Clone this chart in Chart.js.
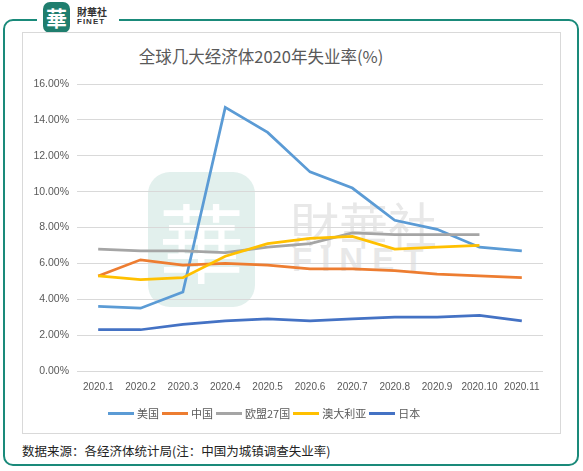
<!DOCTYPE html>
<html>
<head>
<meta charset="utf-8">
<script src="https://cdn.jsdelivr.net/npm/chart.js@4/dist/chart.umd.min.js"></script>
<style>
  body { margin: 0; background: #fff; width: 583px; height: 471px; position: relative; overflow: hidden;
         font-family: "Noto Sans CJK SC", "Liberation Sans", sans-serif; }
  .frame { position: absolute; left: 3px; top: 19px; width: 572px; height: 443px;
           border: 2.5px solid #1a8a7a; border-radius: 10px; }
  .gap { position: absolute; left: 37px; top: 14px; width: 82px; height: 12px; background: #fff; }
  .logo { position: absolute; left: 43px; top: 2px; width: 27px; height: 31px; background: #1f7e6e;
          border-radius: 7px; color: #fff; font-size: 21px; line-height: 31px; text-align: center; font-weight: bold; }
  .brand1 { position: absolute; left: 77px; top: 6px; font-size: 10px; font-weight: bold; color: #333; line-height: 11px; }
  .brand2 { position: absolute; left: 77px; top: 17px; font-family: "Liberation Sans", sans-serif; font-size: 8px;
            font-weight: bold; color: #333; letter-spacing: 1px; line-height: 9px; }
  .box { position: absolute; left: 22px; top: 32px; width: 537px; height: 400px; border: 1px solid #d9d9d9; background: #fff; }
  .wm-logo { position: absolute; left: 148px; top: 172px; width: 107px; height: 135px; background: #e2f0ed;
             border-radius: 22px; color: #fff; font-size: 86px; line-height: 135px; text-align: center; }
  .wm-t1 { position: absolute; left: 290px; top: 198px; font-size: 49px; color: #e8e8e8; line-height: 50px; }
  .wm-t2 { position: absolute; left: 292px; top: 243px; font-family: "Liberation Sans", sans-serif; font-size: 33px;
           color: #e8e8e8; font-weight: bold; letter-spacing: 9px; line-height: 34px; }
  #wrap { position: absolute; left: 23px; top: 33px; width: 537px; height: 400px; }
  .title { position: absolute; left: 0; width: 522px; top: 44px; text-align: center; font-size: 16.5px; color: #595959; }
  #legend { position: absolute; left: 108px; top: 405px; height: 16px; display: flex; align-items: center;
            font-size: 11px; color: #595959; }
  #legend .item { display: flex; align-items: center; margin-right: 3px; }
  #legend .sw { width: 26px; height: 3px; margin-right: 3px; }
  .src { position: absolute; left: 22px; top: 441px; font-size: 12.5px; color: #222; }
</style>
</head>
<body>
<div class="frame"></div>
<div class="gap"></div>
<div class="logo">華</div>
<div class="brand1">財華社</div>
<div class="brand2">FINET</div>
<div class="box"></div>
<div class="wm-logo">華</div>
<div class="wm-t1">財華社</div>
<div class="wm-t2">FINET</div>
<div class="title">全球几大经济体2020年失业率(%)</div>
<div id="wrap"><canvas id="myChart" width="537" height="400"></canvas></div>
<div id="legend"></div>
<div class="src">数据来源：各经济体统计局(注：中国为城镇调查失业率)</div>
<script>
// 月份
var months = ['2020.1', '2020.2', '2020.3', '2020.4', '2020.5', '2020.6', '2020.7', '2020.8', '2020.9', '2020.10', '2020.11'];
// 失业率 (%)
var usa = [3.6, 3.5, 4.4, 14.7, 13.3, 11.1, 10.2, 8.4, 7.9, 6.9, 6.7];
var china = [5.3, 6.2, 5.9, 6.0, 5.9, 5.7, 5.7, 5.6, 5.4, 5.3, 5.2];
var eu27 = [6.8, 6.7, 6.7, 6.6, 6.9, 7.1, 7.7, 7.6, 7.6, 7.6];
var australia = [5.3, 5.1, 5.2, 6.4, 7.1, 7.4, 7.5, 6.8, 6.9, 7.0];
var japan = [2.3, 2.3, 2.6, 2.8, 2.9, 2.8, 2.9, 3.0, 3.0, 3.1, 2.8];
var seriesNames = ['美国', '中国', '欧盟27国', '澳大利亚', '日本'];
var seriesColors = ['#5B9BD5', '#ED7D31', '#A5A5A5', '#FFC000', '#4472C4'];
var yTicks = [0, 2, 4, 6, 8, 10, 12, 14, 16];

var allData = [usa, china, eu27, australia, japan];
var datasets = allData.map(function (d, i) {
  return {
    label: seriesNames[i],
    data: d,
    borderColor: seriesColors[i],
    backgroundColor: seriesColors[i],
    borderWidth: 2.75,
    pointRadius: 0,
    tension: 0,
    order: allData.length - i
  };
});

// legend (html)
var lg = document.getElementById('legend');
seriesNames.forEach(function (name, i) {
  var it = document.createElement('div');
  it.className = 'item';
  it.innerHTML = '<span class="sw" style="background:' + seriesColors[i] + '"></span>' + name;
  lg.appendChild(it);
});

var ctx = document.getElementById('myChart').getContext('2d');
var myChart = new Chart(ctx, {
  type: 'line',
  data: { labels: months, datasets: datasets },
  options: {
    responsive: false,
    animation: false,
    layout: { padding: { top: 51, right: 17, left: 0, bottom: 0 } },
    plugins: {
      legend: { display: false },
      title: { display: false },
      tooltip: { enabled: false }
    },
    scales: {
      x: {
        offset: true,
        grid: { display: false, drawTicks: false },
        border: { display: false },
        ticks: { color: '#595959', font: { family: 'Liberation Sans', size: 10 }, padding: 10, maxRotation: 0, autoSkip: false },
        afterFit: function (s) { s.height = 62; }
      },
      y: {
        min: 0,
        max: 16,
        afterBuildTicks: function (s) { s.ticks = yTicks.map(function (v) { return { value: v }; }); },
        grid: { color: '#d9d9d9', drawTicks: false, lineWidth: 1 },
        border: { display: false },
        ticks: {
          color: '#595959', font: { family: 'Liberation Sans', size: 10.5 }, padding: 8,
          callback: function (v) { return v.toFixed(2) + '%'; }
        },
        afterFit: function (s) { s.width = 54; }
      }
    }
  }
});
</script>
</body>
</html>
